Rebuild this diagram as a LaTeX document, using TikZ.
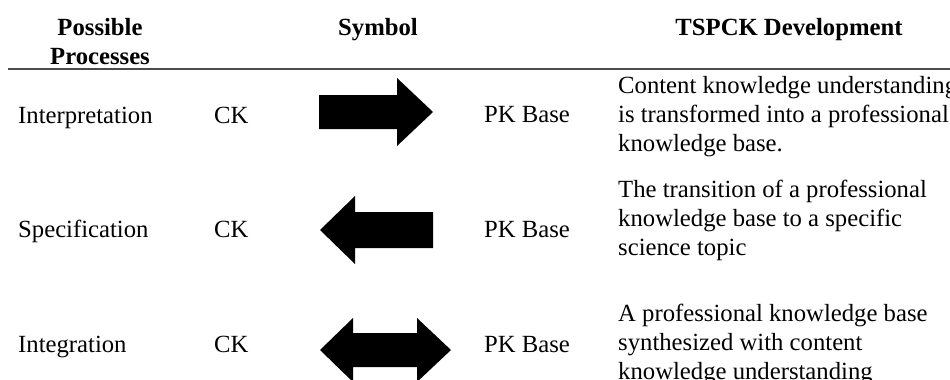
\documentclass[tikz,border=0pt]{standalone}
\usepackage{fontspec}
\setmainfont{Liberation Serif}
\usepackage{tikz}

\begin{document}
\begin{tikzpicture}[x=1pt,y=-1pt,
    cell/.style={anchor=base west,inner sep=0pt,font=\fontsize{24.7}{29}\selectfont},
    head cell/.style={anchor=base,inner sep=0pt,align=center,font=\fontsize{24.7}{29}\selectfont\bfseries},
    desc/.style={cell,align=left,font=\fontsize{24.7}{28.6}\selectfont},
    symbol/.style={fill=black}]
    \useasboundingbox (0,0) rectangle (950,380);
    \clip (0,0) rectangle (950,380);

    % header (base = last line)
    \node[head cell] (possible) at (100,64) {Possible\\Processes};
    \node[head cell] (symbol) at (378,35) {Symbol};
    \node[head cell] (tspck) at (789,35) {TSPCK Development};
    \draw[black!70,line width=1.6pt] (8,69) -- (950,69);

    % rows
    \node[cell] (interp) at (18,123) {Interpretation};
    \node[cell] (ck1) at (214,123) {CK};
    \node[cell] (pk1) at (484,122) {PK Base};
    \node[desc] (desc1) at (618,151) {Content knowledge understanding\\is transformed into a professional\\knowledge base.};

    \node[cell] (spec) at (18,237) {Specification};
    \node[cell] (ck2) at (214,237) {CK};
    \node[cell] (pk2) at (484,237) {PK Base};
    \node[desc] (desc2) at (618,255) {The transition of a professional\\knowledge base to a specific\\science topic};

    \node[cell] (integ) at (18,352) {Integration};
    \node[cell] (ck3) at (214,352) {CK};
    \node[cell] (pk3) at (484,352) {PK Base};
    \node[desc] (desc3) at (618,379) {A professional knowledge base\\synthesized with content\\knowledge understanding};

    % symbols
    \fill[symbol] (319,95) -- (397,95) -- (397,78) -- (433,112) -- (397,146) -- (397,129) -- (319,129) -- cycle;
    \fill[symbol] (433,212) -- (355,212) -- (355,196) -- (320,230) -- (355,264) -- (355,248) -- (433,248) -- cycle;
    \fill[symbol] (320,350) -- (353,318) -- (353,333) -- (417,333) -- (417,318) -- (451,350)
        -- (417,382) -- (417,367) -- (353,367) -- (353,382) -- cycle;
\end{tikzpicture}
\end{document}
